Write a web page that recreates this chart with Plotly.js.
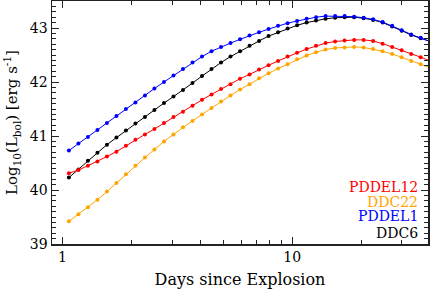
<!DOCTYPE html>
<html>
<head>
<meta charset="utf-8">
<script src="https://cdn.plot.ly/plotly-3.0.1.min.js"></script>
<style>
html,body{margin:0;padding:0;background:#fff;}
#chart{width:430px;height:289px;}
</style>
</head>
<body>
<div id="chart"></div>
<script>
// Days since explosion (x sample points)
var days = [1.066, 1.173, 1.290, 1.419, 1.561, 1.717, 1.888, 2.077, 2.285, 2.513,
            2.765, 3.041, 3.345, 3.680, 4.048, 4.453, 4.898, 5.388, 5.927, 6.519,
            7.171, 7.888, 8.677, 9.545, 10.50, 11.55, 12.70, 13.97, 15.37, 16.91,
            18.60, 20.46, 22.50, 24.75, 27.23, 29.95, 32.95, 36.24, 39.87];

// log10(L_bol) for each model
var pddel12 = [40.31, 40.37, 40.45, 40.53, 40.62, 40.71, 40.82, 40.93, 41.03, 41.13,
               41.24, 41.35, 41.45, 41.56, 41.67, 41.77, 41.87, 41.96, 42.06, 42.14,
               42.23, 42.31, 42.39, 42.47, 42.54, 42.61, 42.67, 42.72, 42.75, 42.77,
               42.78, 42.78, 42.76, 42.71, 42.65, 42.59, 42.52, 42.46, 42.39];
var ddc22   = [39.42, 39.55, 39.68, 39.82, 39.97, 40.13, 40.29, 40.45, 40.60, 40.75,
               40.90, 41.03, 41.16, 41.28, 41.40, 41.52, 41.64, 41.75, 41.86, 41.96,
               42.07, 42.16, 42.25, 42.33, 42.42, 42.49, 42.55, 42.60, 42.63, 42.64,
               42.65, 42.64, 42.61, 42.57, 42.52, 42.46, 42.39, 42.33, 42.26];
var pddel1  = [40.73, 40.86, 40.98, 41.11, 41.24, 41.37, 41.50, 41.62, 41.75, 41.88,
               42.00, 42.12, 42.24, 42.36, 42.47, 42.57, 42.65, 42.72, 42.79, 42.86,
               42.92, 42.98, 43.04, 43.09, 43.13, 43.17, 43.20, 43.22, 43.22, 43.22,
               43.21, 43.19, 43.16, 43.11, 43.04, 42.96, 42.88, 42.82, 42.75];
var ddc6    = [40.23, 40.38, 40.54, 40.69, 40.84, 40.97, 41.10, 41.23, 41.35, 41.48,
               41.61, 41.73, 41.85, 41.98, 42.11, 42.24, 42.36, 42.47, 42.57, 42.67,
               42.76, 42.85, 42.92, 42.99, 43.05, 43.10, 43.14, 43.17, 43.19, 43.20,
               43.20, 43.18, 43.15, 43.10, 43.03, 42.95, 42.87, 42.81, 42.75];

var seriesNames = ['PDDEL12', 'DDC22', 'PDDEL1', 'DDC6'];
var seriesData  = [pddel12, ddc22, pddel1, ddc6];
var seriesColors = ['#ff0000', '#ffa500', '#0000ff', '#000000'];
// draw order: black first so blue overlays it at the peak
var drawOrder = [3, 1, 0, 2];

var xTickVals = [1, 10];
var xMinorVals = [2, 3, 4, 5, 6, 7, 8, 9, 20, 30];
var yTickVals = [39, 40, 41, 42, 43];

var FONT = 'DejaVu Serif';

var traces = drawOrder.map(function(i){
  return {
    x: days, y: seriesData[i], name: seriesNames[i],
    type: 'scatter', mode: 'lines+markers',
    line: {color: seriesColors[i], width: 1},
    marker: {color: seriesColors[i], size: 4},
    cliponaxis: true, showlegend: false
  };
});

var legendY = [40.05, 39.78, 39.51, 39.21];
var annotations = seriesNames.map(function(n, i){
  return {
    text: n, xref: 'paper', yref: 'y', x: 0.977, y: legendY[i],
    xanchor: 'right', yanchor: 'middle', showarrow: false, borderpad: 0,
    font: {family: FONT, size: 14, color: seriesColors[i]}
  };
});

var layout = {
  width: 430, height: 289,
  margin: {l: 52, r: 2, t: 1, b: 45},
  paper_bgcolor: '#fff', plot_bgcolor: '#fff',
  font: {family: FONT, size: 14, color: '#000'},
  showlegend: false,
  xaxis: {
    type: 'log', range: [Math.log10(0.9), Math.log10(39)],
    tickmode: 'array', tickvals: xTickVals, ticktext: xTickVals.map(String),
    ticks: 'inside', ticklen: 7, tickwidth: 1, tickcolor: '#222',
    minor: {tickmode: 'array', tickvals: xMinorVals, ticks: 'inside', ticklen: 4, tickwidth: 1, tickcolor: '#222', showgrid: false},
    showline: true, linecolor: '#222', linewidth: 1.5, mirror: 'allticks',
    showgrid: false, zeroline: false,
    ticklabelstandoff: 0,
    tickfont: {family: FONT, size: 14},
    title: {text: 'Days since Explosion', font: {family: FONT, size: 16}, standoff: 9}
  },
  yaxis: {
    range: [39, 43.5],
    tickmode: 'array', tickvals: yTickVals, ticktext: yTickVals.map(String),
    ticks: 'inside', ticklen: 7, tickwidth: 1, tickcolor: '#222',
    minor: {dtick: 0.1, ticks: 'inside', ticklen: 4, tickwidth: 1, tickcolor: '#222', showgrid: false},
    showline: true, linecolor: '#222', linewidth: 1.5, mirror: 'allticks',
    showgrid: false, zeroline: false,
    ticklabelstandoff: 0,
    tickfont: {family: FONT, size: 14},
    title: {text: 'Log<sub>10</sub>(L<sub>bol</sub>) [erg s<sup>-1</sup>]', font: {family: FONT, size: 15}, standoff: 8}
  },
  annotations: annotations
};

Plotly.newPlot('chart', traces, layout, {staticPlot: true, displayModeBar: false});
</script>
</body>
</html>
